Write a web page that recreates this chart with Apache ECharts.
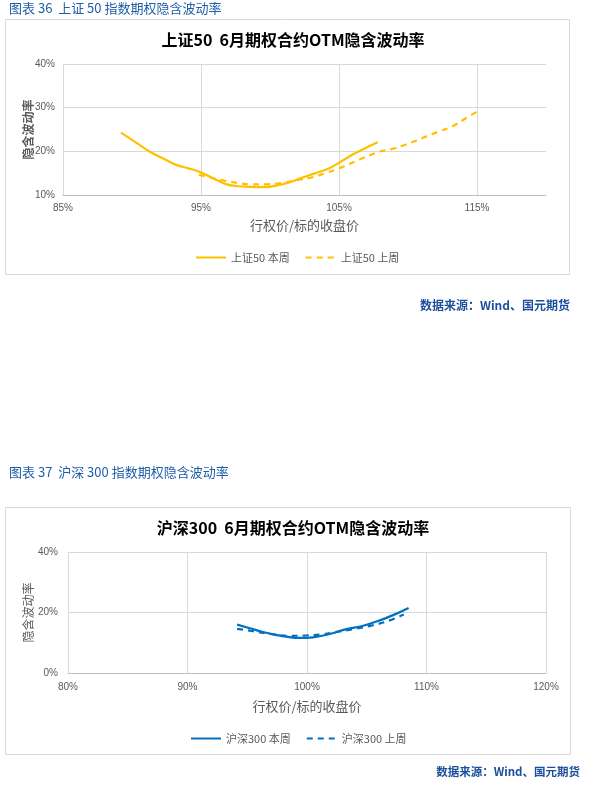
<!DOCTYPE html>
<html>
<head>
<meta charset="utf-8">
<script src="https://cdn.jsdelivr.net/npm/echarts@6/dist/echarts.min.js"></script>
<style>
  html, body { margin: 0; padding: 0; background: #fff; }
  #main { width: 597px; height: 795px; }
</style>
</head>
<body>
<div id="main"></div>
<script>
// 上证50 本周 / 上周 (行权价/标的收盘价 %, 隐含波动率 %)
var sz50ThisX = [89.2, 90.3, 91.3, 92.3, 93.2, 94.1, 94.9, 95.9, 96.8, 97.7, 98.6, 99.6, 100.7, 101.5, 102.1, 103.2, 104.3, 105.0, 106.2, 107.8];
var sz50ThisY = [24.3, 22.0, 19.9, 18.3, 16.9, 16.1, 15.3, 13.8, 12.5, 12.0, 11.85, 11.8, 12.3, 13.0, 13.7, 14.9, 16.1, 17.4, 19.6, 22.1];
var sz50LastX = [94.85, 95.8, 96.8, 97.6, 98.5, 99.7, 100.7, 102.1, 103.1, 104.0, 105.0, 106.4, 107.9, 108.8, 109.8, 111.0, 112.2, 113.2, 114.1, 115.0];
var sz50LastY = [14.6, 13.9, 13.2, 12.8, 12.45, 12.45, 12.7, 13.5, 14.1, 15.0, 16.1, 18.0, 19.9, 20.5, 21.5, 23.0, 24.5, 25.7, 27.4, 29.1];

// 沪深300 本周 / 上周
var hs300ThisX = [94.15, 95.3, 96.3, 97.3, 98.3, 99.4, 100.5, 101.9, 103.3, 104.7, 106.1, 107.3, 108.5];
var hs300ThisY = [16.0, 14.7, 13.55, 12.7, 12.0, 11.6, 11.8, 12.9, 14.5, 15.6, 17.4, 19.3, 21.5];
var hs300LastX = [94.15, 95.5, 96.9, 98.6, 100.0, 101.1, 102.2, 103.9, 105.3, 106.7, 108.1];
var hs300LastY = [14.6, 13.8, 12.9, 12.3, 12.4, 12.7, 13.4, 14.5, 15.6, 17.1, 19.3];

var names = ['上证50 本周', '上证50 上周', '沪深300 本周', '沪深300 上周'];

function pairs(xs, ys) {
  var out = [];
  for (var i = 0; i < xs.length; i++) {
    out.push([xs[i], ys[i]]);
  }
  return out;
}

var cn = "'Noto Sans CJK SC', sans-serif";
var num = "'Liberation Sans', 'Noto Sans CJK SC', sans-serif";
var gray = '#595959';
var gridColor = '#d9d9d9';
var capBlue = '#1f5ea8';
var srcBlue = '#1b4f9c';

var chart = echarts.init(document.getElementById('main'));

function pctLabel(v) { return v + '%'; }

var option = {
  animation: false,
  backgroundColor: '#fff',
  title: [
    { text: '图表 36  上证 50 指数期权隐含波动率', left: 4, top: -3,
      textStyle: { fontFamily: cn, fontSize: 13, fontWeight: 'normal', color: capBlue } },
    { text: '上证50  6月期权合约OTM隐含波动率', left: 288, top: 27, textAlign: 'center',
      textStyle: { fontFamily: cn, fontSize: 16, fontWeight: 'bold', color: '#000' } },
    { text: '数据来源：Wind、国元期货', right: 22, top: 294,
      textStyle: { fontFamily: cn, fontSize: 12, fontWeight: 'bold', color: srcBlue } },
    { text: '图表 37  沪深 300 指数期权隐含波动率', left: 4, top: 461,
      textStyle: { fontFamily: cn, fontSize: 13, fontWeight: 'normal', color: capBlue } },
    { text: '沪深300  6月期权合约OTM隐含波动率', left: 288, top: 515, textAlign: 'center',
      textStyle: { fontFamily: cn, fontSize: 16, fontWeight: 'bold', color: '#000' } },
    { text: '数据来源：Wind、国元期货', right: 12, top: 761,
      textStyle: { fontFamily: cn, fontSize: 11.5, fontWeight: 'bold', color: srcBlue } }
  ],
  graphic: [
    { type: 'rect', shape: { x: 5.5, y: 19.5, width: 564, height: 255 },
      style: { fill: 'none', stroke: gridColor, lineWidth: 1 }, z: -1 },
    { type: 'rect', shape: { x: 5.5, y: 507.5, width: 565, height: 247 },
      style: { fill: 'none', stroke: gridColor, lineWidth: 1 }, z: -1 }
  ],
  legend: [
    { data: [names[0], names[1]], left: 190, top: 247, itemWidth: 30, itemHeight: 12, itemGap: 15,
      itemStyle: { opacity: 0 },
      textStyle: { fontFamily: cn, fontSize: 11, color: gray } },
    { data: [names[2], names[3]], left: 185, top: 728, itemWidth: 30, itemHeight: 12, itemGap: 15,
      itemStyle: { opacity: 0 },
      textStyle: { fontFamily: cn, fontSize: 11, color: gray } }
  ],
  grid: [
    { left: 63, right: 51, top: 64, height: 131 },
    { left: 68, right: 51, top: 552, height: 121 }
  ],
  xAxis: [
    { type: 'value', gridIndex: 0, min: 85, max: 120, interval: 10,
      name: '行权价/标的收盘价', nameLocation: 'middle', nameGap: 24,
      nameTextStyle: { fontFamily: cn, fontSize: 13, color: gray },
      axisLine: { show: true, lineStyle: { color: '#bfbfbf' } },
      axisTick: { show: false },
      axisLabel: { formatter: pctLabel, margin: 8, showMaxLabel: false,
        fontFamily: num, fontSize: 10, color: gray },
      splitLine: { show: true, showMaxLine: false, lineStyle: { color: gridColor } } },
    { type: 'value', gridIndex: 1, min: 80, max: 120, interval: 10,
      name: '行权价/标的收盘价', nameLocation: 'middle', nameGap: 27,
      nameTextStyle: { fontFamily: cn, fontSize: 13, color: gray },
      axisLine: { show: true, lineStyle: { color: '#bfbfbf' } },
      axisTick: { show: false },
      axisLabel: { formatter: pctLabel, margin: 9.5,
        fontFamily: num, fontSize: 10, color: gray },
      splitLine: { show: true, lineStyle: { color: gridColor } } }
  ],
  yAxis: [
    { type: 'value', gridIndex: 0, min: 10, max: 40, interval: 10,
      name: '隐含波动率', nameLocation: 'middle', nameGap: 29, nameRotate: 90, nameMoveOverlap: false,
      nameTextStyle: { fontFamily: cn, fontSize: 12, fontWeight: 'bold', color: gray },
      axisLine: { show: false }, axisTick: { show: false },
      axisLabel: { formatter: pctLabel, margin: 8, fontFamily: num, fontSize: 10, color: gray },
      splitLine: { show: true, lineStyle: { color: gridColor } } },
    { type: 'value', gridIndex: 1, min: 0, max: 40, interval: 20,
      name: '隐含波动率', nameLocation: 'middle', nameGap: 34, nameRotate: 90, nameMoveOverlap: false,
      nameTextStyle: { fontFamily: cn, fontSize: 12, color: gray },
      axisLine: { show: false }, axisTick: { show: false },
      axisLabel: { formatter: pctLabel, margin: 10, fontFamily: num, fontSize: 10, color: gray },
      splitLine: { show: true, lineStyle: { color: gridColor } } }
  ],
  series: [
    { name: names[0], type: 'line', xAxisIndex: 0, yAxisIndex: 0, smooth: 0.4, symbol: 'none',
      color: '#ffc000', lineStyle: { width: 2.2, color: '#ffc000' },
      data: pairs(sz50ThisX, sz50ThisY) },
    { name: names[1], type: 'line', xAxisIndex: 0, yAxisIndex: 0, smooth: 0.4, symbol: 'none',
      color: '#ffc000', lineStyle: { width: 2.2, color: '#ffc000', type: [6, 5] },
      data: pairs(sz50LastX, sz50LastY) },
    { name: names[2], type: 'line', xAxisIndex: 1, yAxisIndex: 1, smooth: 0.4, symbol: 'none',
      color: '#0070c0', lineStyle: { width: 2.2, color: '#0070c0' },
      data: pairs(hs300ThisX, hs300ThisY) },
    { name: names[3], type: 'line', xAxisIndex: 1, yAxisIndex: 1, smooth: 0.4, symbol: 'none',
      color: '#0070c0', lineStyle: { width: 2.2, color: '#0070c0', type: [6, 5] },
      data: pairs(hs300LastX, hs300LastY) }
  ]
};

chart.setOption(option);
</script>
</body>
</html>
